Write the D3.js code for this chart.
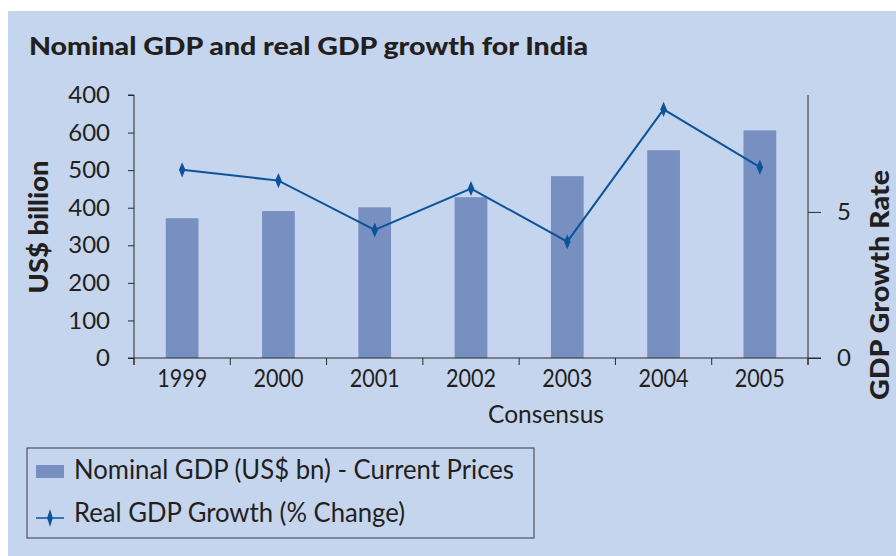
<!DOCTYPE html>
<html>
<head>
<meta charset="utf-8">
<script src="https://cdn.jsdelivr.net/npm/d3@7"></script>
<style>
  html, body { margin: 0; padding: 0; background: #ffffff; }
  svg { display: block; font-family: Lato, "Open Sans", sans-serif; }
</style>
</head>
<body>
<svg id="chart" width="896" height="556"></svg>
<script>
// Chart data
const years = ["1999", "2000", "2001", "2002", "2003", "2004", "2005"];
const nominalGdp = [372, 391, 401, 428, 484, 553, 606];   // US$ bn, current prices
const realGrowth = [6.44, 6.07, 4.38, 5.80, 3.98, 8.51, 6.53]; // % change
const leftTickValues = [0, 100, 200, 300, 400, 500, 600, 700];
const leftTickLabels = ["0", "100", "200", "300", "400", "500", "600", "400"];
const rightTickValues = [0, 5];

const title = "Nominal GDP and real GDP growth for India";
const legendLabels = ["Nominal GDP (US$ bn) - Current Prices", "Real GDP Growth (% Change)"];
const legendWidths = [440, 331];

const bg = "#c6d5ee";
const barColor = "#788fc2";
const lineColor = "#0d5399";
const axisColor = "#2a2a2a";
const textColor = "#231f20";

const svg = d3.select("#chart");

// panel background
svg.append("rect").attr("x", 8).attr("y", 11).attr("width", 888).attr("height", 545).attr("fill", bg);

const plot = { left: 134, right: 808, top: 95, bottom: 358 };

const x = d3.scaleBand().domain(years).range([plot.left, plot.right]).paddingInner(0.66).paddingOuter(0.33);
const xTicks = d3.scaleBand().domain(years).range([plot.left, plot.right]);
const yLeft = d3.scaleLinear().domain([0, 700]).range([plot.bottom, plot.top]);
const yRight = d3.scaleLinear().domain([0, 9]).range([plot.bottom, plot.top]);

// title
svg.append("text").attr("x", 29).attr("y", 55)
  .attr("font-size", 25.5).attr("font-weight", 900).attr("fill", textColor)
  .attr("textLength", 559).attr("lengthAdjust", "spacingAndGlyphs")
  .text(title);

// bars
svg.append("g").selectAll("rect").data(years).join("rect")
  .attr("x", d => x(d))
  .attr("width", x.bandwidth())
  .attr("y", (d, i) => yLeft(nominalGdp[i]))
  .attr("height", (d, i) => yLeft(0) - yLeft(nominalGdp[i]))
  .attr("fill", barColor);

// left axis
const leftAxis = d3.axisLeft(yLeft).tickValues(leftTickValues)
  .tickFormat((d, i) => leftTickLabels[i]).tickSize(6).tickPadding(18);
const gL = svg.append("g").attr("transform", `translate(${plot.left},0)`).call(leftAxis);
gL.select(".domain").attr("d", `M-6,${plot.top}H0V${plot.bottom + 7}`);

// right axis
const rightAxis = d3.axisRight(yRight).tickValues(rightTickValues).tickSize(13).tickPadding(16);
const gR = svg.append("g").attr("transform", `translate(${plot.right},0)`).call(rightAxis);
gR.select(".domain").attr("d", `M0,${plot.top}V${plot.bottom + 7}`);

// bottom axis with ticks on category boundaries
const gB = svg.append("g").attr("transform", `translate(0,${plot.bottom})`);
gB.append("line").attr("x1", plot.left - 6).attr("x2", plot.right + 13).attr("y1", 0).attr("y2", 0)
  .attr("stroke", axisColor);
gB.selectAll("line.tk").data(years.concat(["end"])).join("line").attr("class", "tk")
  .attr("x1", (d, i) => plot.left + i * xTicks.step())
  .attr("x2", (d, i) => plot.left + i * xTicks.step())
  .attr("y1", 0).attr("y2", 7).attr("stroke", axisColor);
gB.selectAll("text").data(years).join("text")
  .attr("x", d => xTicks(d) + xTicks.bandwidth() / 2)
  .attr("y", 29)
  .attr("text-anchor", "middle").attr("font-size", 25).attr("fill", textColor)
  .attr("textLength", 50).attr("lengthAdjust", "spacingAndGlyphs")
  .text(d => d);

[gL, gR].forEach(g => {
  g.selectAll("line").attr("stroke", axisColor);
  g.select(".domain").attr("stroke", axisColor);
  g.selectAll("text").attr("font-size", 24).attr("fill", textColor).attr("font-family", "Lato, sans-serif");
});

// axis titles
svg.append("text").attr("x", 546).attr("y", 423).attr("text-anchor", "middle")
  .attr("font-size", 24.5).attr("fill", textColor)
  .attr("textLength", 116).attr("lengthAdjust", "spacingAndGlyphs").text("Consensus");
svg.append("text").attr("transform", "translate(48,227) rotate(-90)")
  .attr("text-anchor", "middle").attr("font-size", 26).attr("font-weight", 900).attr("fill", textColor)
  .attr("textLength", 133).attr("lengthAdjust", "spacingAndGlyphs")
  .text("US$ billion");
svg.append("text").attr("transform", "translate(889,285) rotate(-90)")
  .attr("text-anchor", "middle").attr("font-size", 26).attr("font-weight", 900).attr("fill", textColor)
  .attr("textLength", 230).attr("lengthAdjust", "spacingAndGlyphs")
  .text("GDP Growth Rate");

// growth line
const line = d3.line()
  .x((d, i) => x(years[i]) + x.bandwidth() / 2)
  .y(d => yRight(d));
svg.append("path").datum(realGrowth).attr("d", line)
  .attr("fill", "none").attr("stroke", lineColor).attr("stroke-width", 2);
// narrow, tall diamond markers
const diamond = d3.symbol().type(d3.symbolDiamond).size(50);
svg.append("g").selectAll("path").data(realGrowth).join("path")
  .attr("transform", (d, i) => `translate(${x(years[i]) + x.bandwidth() / 2},${yRight(d)}) scale(0.85,1.15)`)
  .attr("d", diamond).attr("fill", lineColor);

// legend
const lg = svg.append("g");
lg.append("rect").attr("x", 27).attr("y", 448).attr("width", 507).attr("height", 90)
  .attr("fill", "none").attr("stroke", "#3a3a3a").attr("stroke-width", 1);
lg.append("rect").attr("x", 36).attr("y", 465).attr("width", 28).attr("height", 13).attr("fill", barColor);
lg.append("line").attr("x1", 36).attr("x2", 64).attr("y1", 518).attr("y2", 518)
  .attr("stroke", lineColor).attr("stroke-width", 1.5);
lg.append("path").attr("transform", "translate(50,518) scale(0.75,1.35)").attr("d", diamond).attr("fill", lineColor);
lg.selectAll("text").data(legendLabels).join("text")
  .attr("x", 74).attr("y", (d, i) => 479 + i * 43)
  .attr("font-size", 26).attr("fill", textColor)
  .attr("textLength", (d, i) => legendWidths[i]).attr("lengthAdjust", "spacingAndGlyphs")
  .text(d => d);
</script>
</body>
</html>
